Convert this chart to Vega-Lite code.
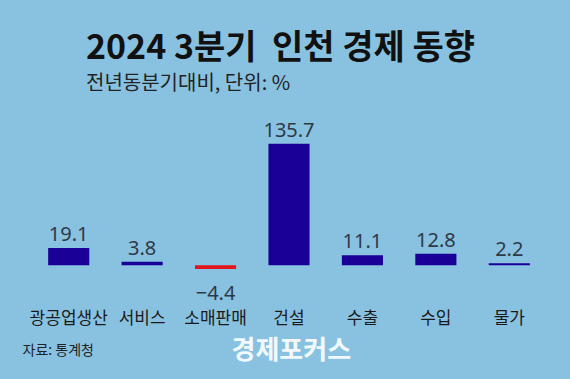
{
  "$schema": "https://vega.github.io/schema/vega-lite/v6.json",
  "autosize": {"type": "none"},
  "padding": {"left": 32, "top": 131, "right": 24, "bottom": 87},
  "width": 514,
  "height": 161,
  "background": "#89c2e1",
  "config": {
    "view": {"stroke": null},
    "font": "Noto Sans CJK KR"
  },
  "title": {
    "text": "2024 3분기 \u00a0인천 경제 동향",
    "subtitle": "전년동분기대비, 단위: %",
    "anchor": "start",
    "frame": "group",
    "dx": 54,
    "offset": 27,
    "font": "Noto Sans CJK KR",
    "fontSize": 34,
    "fontWeight": "bold",
    "color": "#111111",
    "subtitleFont": "Noto Sans CJK KR",
    "subtitleFontSize": 20,
    "subtitleColor": "#222222",
    "subtitlePadding": 8
  },
  "data": {
    "values": [
      {"category": "광공업생산", "value": 19.1},
      {"category": "서비스", "value": 3.8},
      {"category": "소매판매", "value": -4.4},
      {"category": "건설", "value": 135.7},
      {"category": "수출", "value": 11.1},
      {"category": "수입", "value": 12.8},
      {"category": "물가", "value": 2.2}
    ]
  },
  "encoding": {
    "x": {
      "field": "category",
      "type": "nominal",
      "sort": null,
      "scale": {"paddingInner": 0.44, "paddingOuter": 0.22},
      "axis": {
        "title": "자료: 통계청",
        "titleX": -10,
        "titleY": 51,
        "titleAlign": "left",
        "titleAnchor": "start",
        "titleBaseline": "top",
        "titleFontSize": 14,
        "titleFontWeight": "normal",
        "titleColor": "#222222",
        "labelAngle": 0,
        "labelFontSize": 17,
        "labelColor": "#1a1a1a",
        "labelPadding": 18,
        "ticks": false,
        "domain": false,
        "grid": false
      }
    },
    "y": {
      "field": "value",
      "type": "quantitative",
      "scale": {"domain": [-30, 150], "nice": false, "zero": true},
      "axis": {
        "title": "경제포커스",
        "titleAngle": 0,
        "titleX": 199,
        "titleY": 206,
        "titleAlign": "left",
        "titleBaseline": "top",
        "titleFontSize": 26,
        "titleFontWeight": "bold",
        "titleColor": "#f2f9fd",
        "labels": false,
        "ticks": false,
        "domain": false,
        "grid": false
      }
    }
  },
  "layer": [
    {
      "mark": {"type": "bar"},
      "encoding": {
        "color": {
          "condition": {"test": "datum.value < 0", "value": "#e3161e"},
          "value": "#1a0096"
        }
      }
    },
    {
      "transform": [{"filter": "datum.value >= 0"}],
      "mark": {"type": "text", "baseline": "alphabetic", "dy": -7, "fontSize": 20, "font": "Noto Sans", "color": "#2e3947"},
      "encoding": {"text": {"field": "value", "type": "quantitative", "format": ".1f"}}
    },
    {
      "transform": [{"filter": "datum.value < 0"}],
      "mark": {"type": "text", "baseline": "alphabetic", "dy": 31, "fontSize": 20, "font": "Noto Sans", "color": "#2e3947"},
      "encoding": {"text": {"field": "value", "type": "quantitative", "format": ".1f"}}
    }
  ]
}
